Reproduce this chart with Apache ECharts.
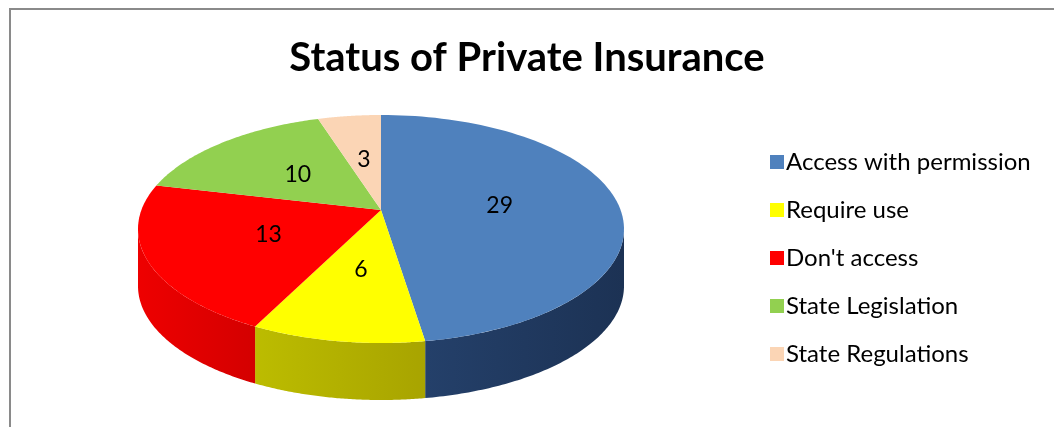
<!DOCTYPE html>
<html>
<head>
<meta charset="utf-8">
<script src="https://cdn.jsdelivr.net/npm/echarts@6/dist/echarts.min.js"></script>
<style>
  html, body { margin: 0; padding: 0; background: #fff; overflow: hidden; }
  .frame {
    position: absolute; left: 9px; top: 8px; width: 1100px; height: 440px;
    border-top: 2px solid #8a8a8a; border-left: 2px solid #8a8a8a;
  }
  #main { position: absolute; left: 0; top: 0; width: 1054px; height: 427px; }
</style>
</head>
<body>
<div class="frame"></div>
<div id="main"></div>
<script>
  var categories = ["Access with permission", "Require use", "Don't access", "State Legislation", "State Regulations"];
  var values = [29, 6, 13, 10, 3];
  var topColors = ["#4f81bd", "#ffff00", "#ff0000", "#92d050", "#fbd5b5"];
  var sideColors = [["#24406a", "#1c3254"], ["#bcbc00", "#a8a400"], ["#ee0000", "#d40000"], ["#6f9e3a", "#7fb040"], ["#d8b498", "#e8c4a8"]];

  // pie geometry (pixels); d pushes the pie centre upwards (perspective)
  var cx = 381, cy = 229, rx = 243, ry = 114, depth = 57, d = 0.167;

  var total = values.reduce(function (a, b) { return a + b; }, 0);
  var starts = [];
  var acc = 0;
  values.forEach(function (v) { starts.push(acc / total * Math.PI * 2); acc += v; });

  // angle clockwise from 12 o'clock, r in 0..1 -> perspective-projected unit coords
  function proj(a, r) {
    var x = r * Math.sin(a), y = r * Math.cos(a);
    var den = 1 + d * y;
    return [x * Math.sqrt(1 - d * d) / den, (y + d) / den];
  }
  function px(p, dy) {
    return [cx + rx * p[0], cy - ry * p[1] + (dy || 0)];
  }
  // projected parameter angle of a rim point
  function tOf(a) {
    var p = proj(a, 1);
    var t = Math.atan2(p[0], p[1]);
    return t < 0 ? t + Math.PI * 2 : t;
  }

  function renderSlice(params, api) {
    var i = params.seriesIndex;
    var a0 = starts[i];
    var a1 = a0 + api.value(0) / total * Math.PI * 2;
    var children = [];
    var n = 90, k, a;

    // side wall, only for the front half of the ellipse
    var t0 = tOf(a0), t1 = a1 >= Math.PI * 2 - 1e-9 ? Math.PI * 2 : tOf(a1);
    var s0 = Math.max(t0, Math.PI / 2), s1 = Math.min(t1, Math.PI * 1.5);
    if (s1 > s0) {
      var side = [];
      for (k = 0; k <= n; k++) { a = s0 + (s1 - s0) * k / n; side.push(px([Math.sin(a), Math.cos(a)])); }
      for (k = n; k >= 0; k--) { a = s0 + (s1 - s0) * k / n; side.push(px([Math.sin(a), Math.cos(a)], depth)); }
      children.push({
        type: 'polygon', z2: 1,
        shape: { points: side },
        style: {
          fill: new echarts.graphic.LinearGradient(0, 0, 1, 0, [
            { offset: 0, color: sideColors[i][0] },
            { offset: 1, color: sideColors[i][1] }
          ])
        }
      });
    }

    // top face
    var top = [px(proj(0, 0))];
    for (k = 0; k <= n; k++) { a = a0 + (a1 - a0) * k / n; top.push(px(proj(a, 1))); }
    children.push({
      type: 'polygon', z2: 2,
      shape: { points: top },
      style: { fill: topColors[i] }
    });

    // value label
    var lp = px(proj((a0 + a1) / 2, 0.5));
    children.push({
      type: 'text', z2: 3,
      x: lp[0], y: lp[1],
      style: {
        text: String(api.value(0)),
        fill: '#000', fontSize: 23, fontFamily: 'Lato',
        align: 'center', verticalAlign: 'middle'
      }
    });
    return { type: 'group', children: children };
  }

  var chart = echarts.init(document.getElementById('main'));
  chart.setOption({
    animation: false,
    title: {
      text: 'Status of Private Insurance',
      left: 'center', top: 33,
      textStyle: { fontFamily: 'Lato', fontWeight: 'bold', fontSize: 40, color: '#000' }
    },
    legend: {
      orient: 'vertical',
      left: 765, top: 145,
      icon: 'rect', itemWidth: 14, itemHeight: 14, itemGap: 24,
      textStyle: { fontFamily: 'Lato', fontSize: 24, color: '#000', padding: [0, 0, 0, -3] },
      data: categories
    },
    series: categories.map(function (name, i) {
      return {
        name: name,
        type: 'custom',
        coordinateSystem: 'none',
        itemStyle: { color: topColors[i] },
        renderItem: renderSlice,
        data: [[values[i]]]
      };
    })
  });
</script>
</body>
</html>
